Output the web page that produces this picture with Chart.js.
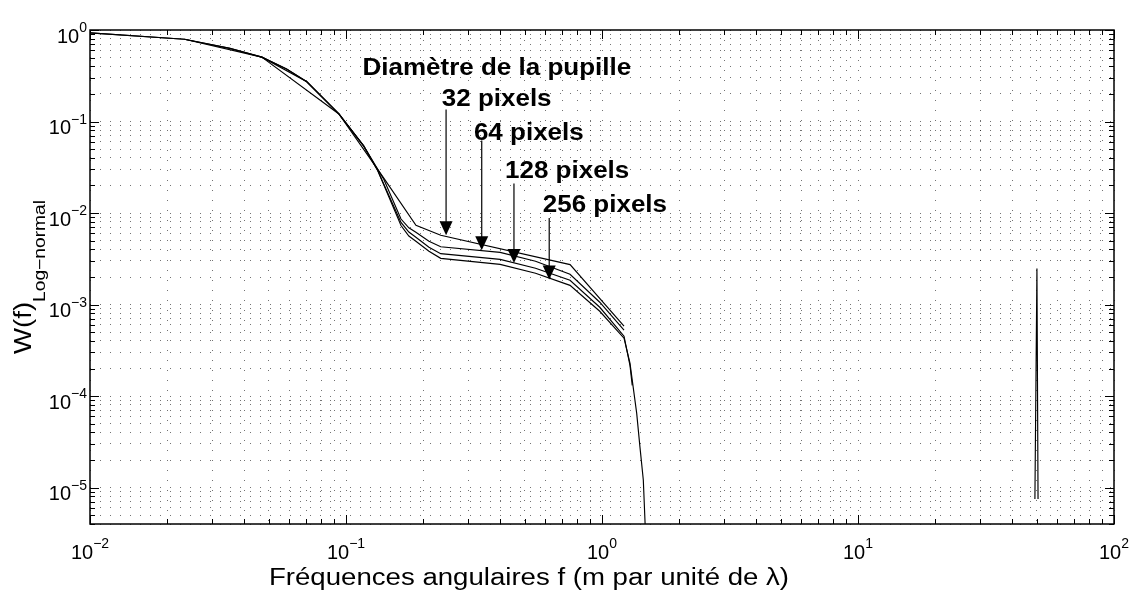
<!DOCTYPE html>
<html>
<head>
<meta charset="utf-8">
<script src="https://cdn.jsdelivr.net/npm/chart.js@4.4.1/dist/chart.umd.min.js"></script>
<style>
  html, body { margin: 0; padding: 0; background: #fff; }
</style>
</head>
<body>
<canvas id="spectre" width="1131" height="592"></canvas>
<script>
'use strict';
// angular frequency f (m per unit of lambda) and W(f) for each pupil diameter
var f32 = [0.0469, 0.0938, 0.1407, 0.1876, 0.2345, 0.7504, 1.219];
var w32 = [0.505, 0.121, 0.0239, 0.00734, 0.00571, 0.00273, 0.00058];

var f64 = [0.0234, 0.0469, 0.0703, 0.0938, 0.1172, 0.1406, 0.164, 0.176, 0.1875, 0.2109, 0.2344, 0.40, 0.55, 0.75, 0.98, 1.219];
var w64 = [0.793, 0.505, 0.272, 0.121, 0.0542, 0.0233, 0.0086, 0.0069, 0.00616, 0.00491, 0.00428, 0.00372, 0.00297, 0.00214, 0.00106, 0.000524];

var f128 = [0.01, 0.0234, 0.0352, 0.0469, 0.0586, 0.0703, 0.0938, 0.1172, 0.133, 0.164, 0.176, 0.1875, 0.2109, 0.2344, 0.40, 0.55, 0.75, 0.98, 1.219, 1.286, 1.3125];
var w128 = [0.932, 0.793, 0.63, 0.505, 0.375, 0.272, 0.121, 0.0542, 0.0292, 0.0079, 0.0062, 0.00543, 0.00422, 0.0036, 0.00312, 0.00249, 0.00184, 0.000934, 0.000451, 0.000217, 0.000131];

var f256 = [0.01, 0.0234, 0.0352, 0.0469, 0.0586, 0.0703, 0.0938, 0.1172, 0.133, 0.164, 0.176, 0.1875, 0.2109, 0.2344, 0.40, 0.55, 0.75, 0.98, 1.219, 1.286, 1.366, 1.407, 1.45, 1.48];
var w256 = [0.932, 0.793, 0.63, 0.505, 0.375, 0.272, 0.121, 0.0542, 0.0292, 0.0073, 0.0056, 0.00491, 0.00382, 0.0032, 0.00275, 0.0022, 0.00162, 0.000845, 0.000429, 0.000229, 0.000065, 0.0000277, 0.0000121, 0.000003];

// stray peak near f = 50
var fPic = [49.1, 50, 50.5];
var wPic = [0.0000075, 0.00247, 0.0000075];

var xLimits = [0.01, 100];
var yLimits = [0.000004, 1];

// text labels and arrows, anchored in data units
var notes = [
  {text: 'Diamètre de la pupille', f: 0.116, w: 0.377},
  {text: '32 pixels', f: 0.2366, w: 0.173, arrowF: 0.246, fromW: 0.135, toW: 0.00571},
  {text: '64 pixels', f: 0.316, w: 0.0736, arrowF: 0.339, fromW: 0.062, toW: 0.00392},
  {text: '128 pixels', f: 0.418, w: 0.028, arrowF: 0.453, fromW: 0.021, toW: 0.00284},
  {text: '256 pixels', f: 0.587, w: 0.0121, arrowF: 0.622, fromW: 0.0088, toW: 0.00188}
];

var FONT = '"Liberation Sans", Arial, Helvetica, sans-serif';

function pairs(fs, ws) {
  return fs.map(function (f, i) { return {x: f, y: ws[i]}; });
}

function curve(name, fs, ws) {
  return {
    label: name,
    data: pairs(fs, ws),
    borderColor: '#000',
    borderWidth: 1.15,
    pointRadius: 0,
    tension: 0,
    fill: false
  };
}

// 1..9 x 10^k between the limits, so every minor grid line gets drawn
function logTicks(scale) {
  var out = [];
  var lo = Math.floor(Math.log10(scale.min)), hi = Math.ceil(Math.log10(scale.max));
  for (var e = lo; e <= hi; e++) {
    for (var m = 1; m <= 9; m++) {
      var v = m * Math.pow(10, e);
      if (v >= scale.min * 0.999 && v <= scale.max * 1.001) out.push({value: v});
    }
  }
  scale.ticks = out;
}

function isDecade(v) {
  var l = Math.log10(v);
  return Math.abs(l - Math.round(l)) < 1e-9;
}

// text stretched along its own direction
function wideText(ctx, txt, x, y, sx) {
  ctx.save();
  ctx.translate(x, y);
  ctx.scale(sx, 1);
  ctx.fillText(txt, 0, 0);
  ctx.restore();
}

function powerLabel(ctx, e, x, y, mode) {
  var base = '10';
  var sup = e < 0 ? '\u2212' + (-e) : String(e);
  ctx.font = '20px ' + FONT;
  var wb = ctx.measureText(base).width;
  ctx.font = '14px ' + FONT;
  var ws = ctx.measureText(sup).width;
  var x0 = mode === 'x' ? x - (wb + ws) / 2 : x - (wb + ws);
  ctx.textAlign = 'left';
  ctx.textBaseline = 'middle';
  ctx.font = '20px ' + FONT;
  ctx.fillText(base, x0, y);
  ctx.font = '14px ' + FONT;
  ctx.fillText(sup, x0 + wb, y - 8.5);
}

var matlabAxes = {
  id: 'matlabAxes',
  afterDraw: function (chart) {
    var ctx = chart.ctx, a = chart.chartArea;
    var xs = chart.scales.x, ys = chart.scales.y;
    ctx.save();
    ctx.fillStyle = '#000';
    ctx.strokeStyle = '#000';

    // inward tick marks on the four sides
    ctx.lineWidth = 1;
    ctx.beginPath();
    xs.ticks.forEach(function (t) {
      var px = Math.round(xs.getPixelForValue(t.value)) + 0.5;
      var len = isDecade(t.value) ? 9 : 5;
      ctx.moveTo(px, a.bottom); ctx.lineTo(px, a.bottom - len);
      ctx.moveTo(px, a.top); ctx.lineTo(px, a.top + len);
    });
    ys.ticks.forEach(function (t) {
      var py = Math.round(ys.getPixelForValue(t.value)) + 0.5;
      var len = isDecade(t.value) ? 9 : 5;
      ctx.moveTo(a.left, py); ctx.lineTo(a.left + len, py);
      ctx.moveTo(a.right, py); ctx.lineTo(a.right - len, py);
    });
    ctx.stroke();

    ctx.lineWidth = 1.5;
    ctx.strokeRect(a.left, a.top, a.right - a.left, a.bottom - a.top);

    // decade labels 10^n
    xs.ticks.forEach(function (t) {
      if (!isDecade(t.value)) return;
      powerLabel(ctx, Math.round(Math.log10(t.value)), xs.getPixelForValue(t.value), a.bottom + 29, 'x');
    });
    ys.ticks.forEach(function (t) {
      if (!isDecade(t.value)) return;
      powerLabel(ctx, Math.round(Math.log10(t.value)), a.left - 3, ys.getPixelForValue(t.value) + 7, 'y');
    });

    // axis titles
    ctx.textBaseline = 'alphabetic';
    ctx.textAlign = 'left';
    ctx.font = '23px ' + FONT;
    var xt = 'Fréquences angulaires f (m par unité de \u03bb)';
    var wx = ctx.measureText(xt).width * 1.2;
    wideText(ctx, xt, 529 - wx / 2, a.bottom + 61, 1.2);

    ctx.save();
    ctx.translate(31, (a.top + a.bottom) / 2);
    ctx.rotate(-Math.PI / 2);
    ctx.font = '23px ' + FONT;
    var wMain = ctx.measureText('W(f)').width * 1.2;
    ctx.font = '16px ' + FONT;
    var wSub = ctx.measureText('Log\u2212normal').width * 1.2;
    var s0 = -(wMain + wSub) / 2;
    ctx.font = '23px ' + FONT;
    wideText(ctx, 'W(f)', s0, 0, 1.2);
    ctx.font = '16px ' + FONT;
    wideText(ctx, 'Log\u2212normal', s0 + wMain, 14, 1.2);
    ctx.restore();

    // pupil diameter notes and arrows
    ctx.font = 'bold 23px ' + FONT;
    ctx.textBaseline = 'middle';
    notes.forEach(function (n) {
      wideText(ctx, n.text, xs.getPixelForValue(n.f), ys.getPixelForValue(n.w), 1.13);
      if (n.arrowF === undefined) return;
      var ax = xs.getPixelForValue(n.arrowF);
      var y0 = ys.getPixelForValue(n.fromW);
      var y1 = ys.getPixelForValue(n.toW);
      ctx.lineWidth = 1.2;
      ctx.beginPath();
      ctx.moveTo(ax, y0);
      ctx.lineTo(ax, y1 - 12);
      ctx.stroke();
      ctx.beginPath();
      ctx.moveTo(ax - 6.5, y1 - 14);
      ctx.lineTo(ax + 6.5, y1 - 14);
      ctx.lineTo(ax, y1);
      ctx.closePath();
      ctx.fill();
    });
    ctx.restore();
  }
};

function axisOptions(limits) {
  return {
    type: 'logarithmic',
    min: limits[0],
    max: limits[1],
    afterBuildTicks: logTicks,
    ticks: {display: false},
    grid: {color: 'rgba(0,0,0,0.55)', lineWidth: 1, drawTicks: false},
    border: {display: false, dash: [1, 9]}
  };
}

new Chart(document.getElementById('spectre'), {
  type: 'line',
  data: {
    datasets: [
      curve('32 pixels', f32, w32),
      curve('64 pixels', f64, w64),
      curve('128 pixels', f128, w128),
      curve('256 pixels', f256, w256),
      curve('pic', fPic, wPic)
    ]
  },
  options: {
    responsive: false,
    devicePixelRatio: 1,
    animation: false,
    layout: {padding: {left: 90, right: 17, top: 30, bottom: 68}},
    scales: {x: axisOptions(xLimits), y: axisOptions(yLimits)},
    plugins: {legend: {display: false}, tooltip: {enabled: false}}
  },
  plugins: [matlabAxes]
});
</script>
</body>
</html>
